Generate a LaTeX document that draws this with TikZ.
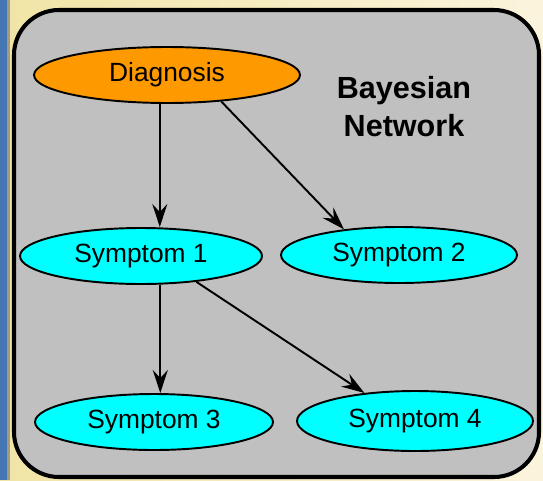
\documentclass[tikz,border=0pt]{standalone}
\usepackage{fontspec}
\setmainfont{Liberation Sans}
\usetikzlibrary{shapes.geometric,arrows.meta}

\definecolor{netgray}{HTML}{C0C0C0}
\definecolor{causeorange}{HTML}{FF9900}
\definecolor{effectcyan}{HTML}{00FFFF}
\definecolor{sandlight}{HTML}{F1E4A6}
\definecolor{sandpale}{HTML}{FBF4DD}
\definecolor{edgeblue}{HTML}{4577B5}
\definecolor{edgetan}{HTML}{A39B7E}

\begin{document}
\begin{tikzpicture}[x=0.02cm, y=-0.02cm,
    varnode/.style={ellipse, draw, line width=1.1pt, inner sep=0pt,
        minimum height=1.12cm, font=\fontsize{15}{18}\selectfont},
    link/.style={line width=1.1pt, -{Stealth[length=0.46cm, width=0.3cm, inset=0.16cm]}}]
    % Backdrop: sand gradient with the blue edge on the left
    \useasboundingbox (0,0) rectangle (543,480);
    \shade[left color=sandlight, right color=sandpale] (0,0) rectangle (543,480);
    \fill[edgeblue] (0,0) rectangle (7,480);
    \fill[edgetan] (7,0) rectangle (10,480);

    % Network frame
    \draw[line width=2.3pt, fill=netgray, rounded corners=0.9cm] (14,10) rectangle (539,477);
    \node[font=\fontsize{17.4}{21.6}\selectfont\bfseries, align=center] (title) at (404,107) {Bayesian\\Network};

    % Variables
    \node[varnode, fill=causeorange, minimum width=5.32cm] (diag) at (167,75) {Diagnosis};
    \node[varnode, fill=effectcyan, minimum width=4.84cm] (s1) at (141,256) {Symptom 1};
    \node[varnode, fill=effectcyan, minimum width=4.72cm] (s2) at (399,255) {Symptom 2};
    \node[varnode, fill=effectcyan, minimum width=4.76cm] (s3) at (154,422) {Symptom 3};
    \node[varnode, fill=effectcyan, minimum width=4.72cm, minimum height=1.2cm] (s4) at (415,421) {Symptom 4};

    % Dependencies
    \draw[link] (diag.-104) -- (diag.-104 |- s1.north);
    \draw[link] (diag.-26) -- (s2.155);
    \draw[link] (s1.-56) -- (s1.-56 |- s3.north);
    \draw[link] (s1.-25) -- (s4.151);
\end{tikzpicture}
\end{document}
